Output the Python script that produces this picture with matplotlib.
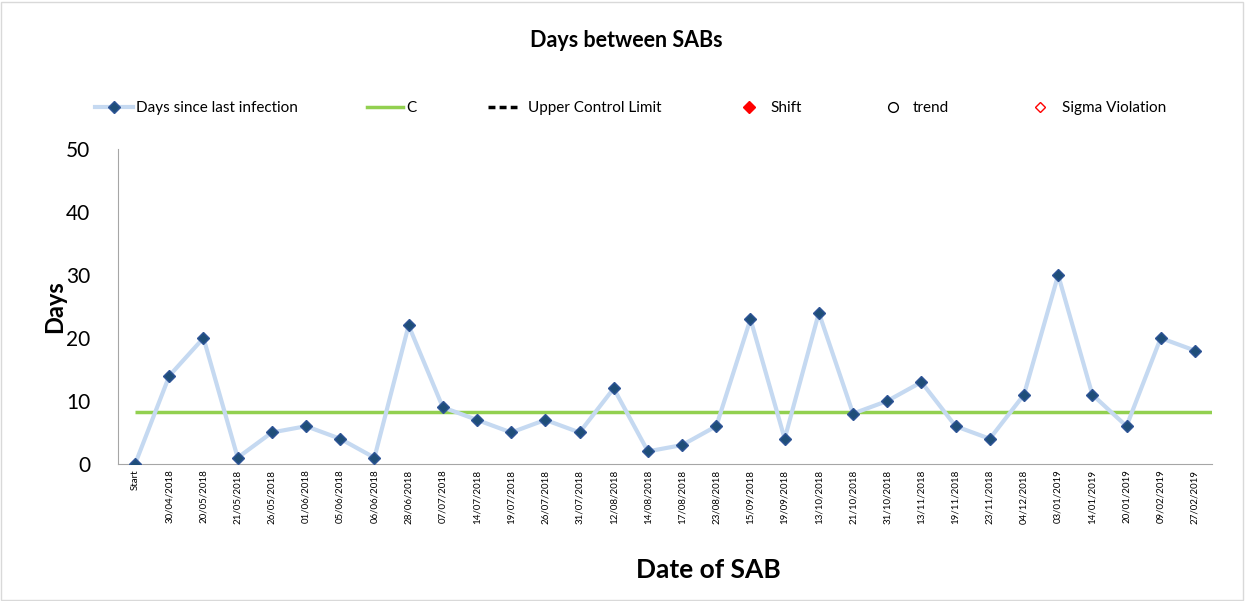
import numpy as np
import matplotlib.pyplot as plt
from matplotlib.lines import Line2D
from matplotlib.patches import Rectangle

plt.rcParams['font.family'] = ['Lato', 'DejaVu Sans']

# data
dates = ["Start", "30/04/2018", "20/05/2018", "21/05/2018", "26/05/2018", "01/06/2018",
         "05/06/2018", "06/06/2018", "28/06/2018", "07/07/2018", "14/07/2018", "19/07/2018",
         "26/07/2018", "31/07/2018", "12/08/2018", "14/08/2018", "17/08/2018", "23/08/2018",
         "15/09/2018", "19/09/2018", "13/10/2018", "21/10/2018", "31/10/2018", "13/11/2018",
         "19/11/2018", "23/11/2018", "04/12/2018", "03/01/2019", "14/01/2019", "20/01/2019",
         "09/02/2019", "27/02/2019"]
days = [0, 14, 20, 1, 5, 6, 4, 1, 22, 9, 7, 5, 7, 5, 12, 2, 3, 6, 23, 4, 24, 8, 10, 13,
        6, 4, 11, 30, 11, 6, 20, 18]
center = 8.25
y_ticks = [0, 10, 20, 30, 40, 50]

fig = plt.figure(figsize=(12.45, 6.01), dpi=100)
fig.patches.append(Rectangle((0.001, 0.002), 0.997, 0.995, transform=fig.transFigure,
                             fill=False, edgecolor='#d9d9d9', linewidth=1))
ax = fig.add_axes([0.0948, 0.228, 0.8787, 0.524])

x = np.arange(len(dates))
ax.plot(x, days, color='#c5d9f1', linewidth=3, zorder=2)
ax.plot(x, days, linestyle='none', marker='D', markersize=6.5,
        color='#1f4e79', markeredgecolor='#2f5597', zorder=3)
ax.hlines(center, 0, len(dates) - 0.5, color='#92d050', linewidth=2.5, zorder=1)

ax.set_xlim(-0.5, len(dates) - 0.5)
ax.set_ylim(0, 50)
ax.set_yticks(y_ticks)
ax.tick_params(axis='y', length=0, labelsize=15, pad=20)
ax.set_xticks(x)
ax.set_xticklabels(dates, rotation=90, fontsize=7, va='top', ha='center')
ax.tick_params(axis='x', length=0, pad=4)
for s in ['top', 'right']:
    ax.spines[s].set_visible(False)
for s in ['left', 'bottom']:
    ax.spines[s].set_color('#a6a6a6')

ax.set_ylabel("Days", fontsize=17, fontweight='bold', labelpad=0)
fig.text(0.569, 0.052, "Date of SAB", fontsize=19, fontweight='bold', ha='center', va='center')
fig.text(0.503, 0.933, "Days between SABs", fontsize=15.5, fontweight='bold', ha='center', va='center')

# legend entries: handle, label, left x (pixels), handle length, text pad
handles = [
    (Line2D([], [], color='#c5d9f1', linewidth=3, marker='D', markersize=6,
            markerfacecolor='#1f4e79', markeredgecolor='#2f5597'),
     "Days since last infection", 95, 2.5, 0.2),
    (Line2D([], [], color='#92d050', linewidth=2.5), "C", 367, 2.35, 0.25),
    (Line2D([], [], color='black', linewidth=2.5, linestyle=(0, (2, 1.2))),
     "Upper Control Limit", 488, 1.9, 0.7),
    (Line2D([], [], linestyle='none', marker='D', markersize=6, color='red'),
     "Shift", 741, 1.0, 0.94),
    (Line2D([], [], linestyle='none', marker='o', markersize=7, markerfacecolor='none',
            markeredgecolor='black'), "trend", 885, 1.0, 0.8),
    (Line2D([], [], linestyle='none', marker='D', markersize=5, markerfacecolor='none',
            markeredgecolor='red'), "Sigma Violation", 1032, 1.0, 0.94),
]
for h, lab, px, hl, tp in handles:
    fig.legend([h], [lab], loc='center left', bbox_to_anchor=(px / 1245, 0.82), frameon=False,
               fontsize=11, handlelength=hl, handletextpad=tp, borderpad=0, borderaxespad=0)

fig.savefig("out.png", dpi=100)
